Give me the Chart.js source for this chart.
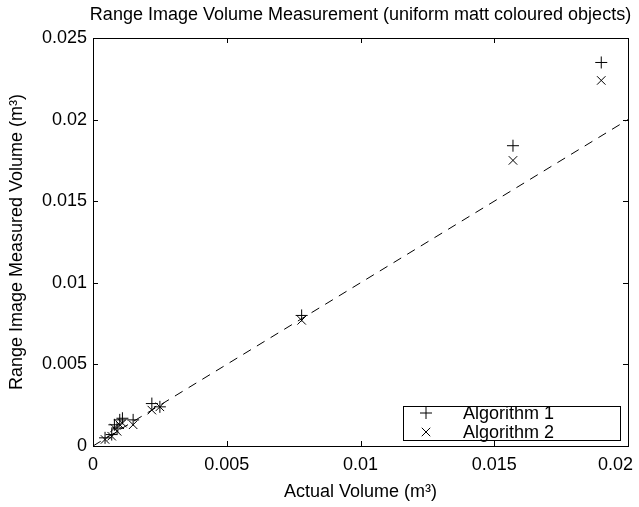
<!DOCTYPE html>
<html>
<head>
<meta charset="utf-8">
<script src="https://cdn.jsdelivr.net/npm/chart.js@4/dist/chart.umd.min.js"></script>
<style>
  html, body { margin: 0; padding: 0; background: #fff; }
  #wrap { width: 639px; height: 507px; }
</style>
</head>
<body>
<div id="wrap"><canvas id="scatter-chart"></canvas></div>
<script>
// ---------------------------------------------------
// DATA
// ---------------------------------------------------
const actualVolume = [ 0.00045, 0.0007, 0.0008, 0.0009, 0.0010, 0.0011, 0.0015, 0.0022, 0.0025, 0.0078, 0.0157, 0.0190 ];
const algorithm1 = [ 0.0005, 0.0007, 0.0013, 0.0011, 0.0016, 0.0017, 0.0016, 0.0026, 0.0024, 0.0080, 0.0184, 0.0235 ];
const algorithm2 = [ 0.0004, 0.0006, 0.0011, 0.0009, 0.0013, 0.0014, 0.0013, 0.0022, 0.0024, 0.0077, 0.0175, 0.0224 ];
const idealLine = [ 0, 0.02 ];
const xTicks = [ 0, 0.005, 0.01, 0.015, 0.02 ];
const yTicks = [ 0, 0.005, 0.01, 0.015, 0.02, 0.025 ];
const seriesNames = [ 'Algorithm 1', 'Algorithm 2' ];
const chartTitle = 'Range Image Volume Measurement (uniform matt coloured objects)';
// ---------------------------------------------------
const FONT = '"Liberation Sans", Arial, Helvetica, sans-serif';
const FS = 18;
const pairs = ( xs, ys ) => xs.map( ( x, i ) => ( { x: x, y: ys[ i ] } ) );
const fmt = v => String( +v.toFixed( 4 ) );

// box, inward ticks, title and legend drawn like the matlab figure
const matlabFrame = {
    id: 'matlabFrame',
    afterDraw( chart ) {
        const ctx = chart.ctx;
        const a = chart.chartArea;
        const sx = chart.scales.x, sy = chart.scales.y;
        ctx.save();
        ctx.strokeStyle = '#000';
        ctx.lineWidth = 1;
        ctx.strokeRect( Math.round( a.left ) + 0.5, Math.round( a.top ) + 0.5,
            Math.round( a.right - a.left ), Math.round( a.bottom - a.top ) );
        ctx.beginPath();
        xTicks.forEach( v => {
            const px = Math.round( sx.getPixelForValue( v ) ) + 0.5;
            ctx.moveTo( px, a.bottom ); ctx.lineTo( px, a.bottom - 5 );
            ctx.moveTo( px, a.top ); ctx.lineTo( px, a.top + 5 );
        } );
        yTicks.forEach( v => {
            const py = Math.round( sy.getPixelForValue( v ) ) + 0.5;
            ctx.moveTo( a.left, py ); ctx.lineTo( a.left + 5, py );
            ctx.moveTo( a.right, py ); ctx.lineTo( a.right - 5, py );
        } );
        ctx.stroke();

        // title
        ctx.fillStyle = '#000';
        ctx.font = FS + 'px ' + FONT;
        ctx.textAlign = 'center';
        ctx.textBaseline = 'middle';
        ctx.fillText( chartTitle, ( a.left + a.right ) / 2, 15 );

        // legend
        const lx = 403, ly = 406, lw = 217, lh = 34;
        ctx.fillStyle = '#fff';
        ctx.fillRect( lx, ly, lw, lh );
        ctx.strokeRect( lx + 0.5, ly + 0.5, lw, lh );
        ctx.fillStyle = '#000';
        ctx.textAlign = 'left';
        const styles = [ 'cross', 'crossRot' ];
        seriesNames.forEach( ( name, i ) => {
            const cy = ly + 7 + i * 19;
            Chart.helpers.drawPoint( ctx, { pointStyle: styles[ i ], radius: 6, borderWidth: 1 }, 426, cy );
            ctx.fillText( name, 463, cy + 1 );
        } );
        ctx.restore();
    }
};

const scatterChart = new Chart( document.getElementById( 'scatter-chart' ), {
    type: 'scatter',
    data: {
        datasets: [
            {
                label: seriesNames[ 0 ],
                data: pairs( actualVolume, algorithm1 ),
                pointStyle: 'cross',
                radius: 6,
                borderColor: '#000',
                borderWidth: 1
            },
            {
                label: seriesNames[ 1 ],
                data: pairs( actualVolume, algorithm2 ),
                pointStyle: 'crossRot',
                radius: 6,
                borderColor: '#000',
                borderWidth: 1
            },
            {
                label: 'ideal',
                type: 'line',
                data: pairs( idealLine, idealLine ),
                borderColor: '#000',
                borderWidth: 1,
                borderDash: [ 9, 7 ],
                pointRadius: 0,
                fill: false
            }
        ]
    },
    options: {
        responsive: true,
        maintainAspectRatio: false,
        animation: false,
        layout: { padding: { top: 38, right: 11, left: 0, bottom: 0 } },
        plugins: {
            legend: { display: false },
            title: { display: false },
            tooltip: { enabled: false }
        },
        scales: {
            x: {
                type: 'linear',
                min: 0,
                max: 0.02,
                afterFit( scale ) { scale.height = 61; scale.paddingLeft = 0; scale.paddingRight = 0; },
                afterBuildTicks( scale ) { scale.ticks = xTicks.map( v => ( { value: v } ) ); },
                grid: { display: false, drawTicks: false },
                border: { display: false },
                ticks: {
                    color: '#000',
                    padding: 8,
                    maxRotation: 0,
                    font: { family: FONT, size: FS },
                    // last label pulled inside the figure, as matlab does
                    callback: v => v === xTicks[ xTicks.length - 1 ] ? fmt( v ) + '     ' : fmt( v )
                },
                title: {
                    display: true,
                    text: 'Actual Volume (m³)',
                    color: '#000',
                    font: { family: FONT, size: FS },
                    padding: { top: 0, bottom: 4 }
                }
            },
            y: {
                type: 'linear',
                min: 0,
                max: 0.025,
                afterFit( scale ) { scale.width = 93; scale.paddingTop = 0; scale.paddingBottom = 0; },
                afterBuildTicks( scale ) { scale.ticks = yTicks.map( v => ( { value: v } ) ); },
                grid: { display: false, drawTicks: false },
                border: { display: false },
                ticks: {
                    color: '#000',
                    padding: 6,
                    font: { family: FONT, size: FS },
                    callback: fmt
                },
                title: {
                    display: true,
                    text: 'Range Image Measured Volume (m³)',
                    color: '#000',
                    font: { family: FONT, size: FS },
                    padding: { top: 6, bottom: 0 }
                }
            }
        }
    },
    plugins: [ matlabFrame ]
} );
</script>
</body>
</html>
